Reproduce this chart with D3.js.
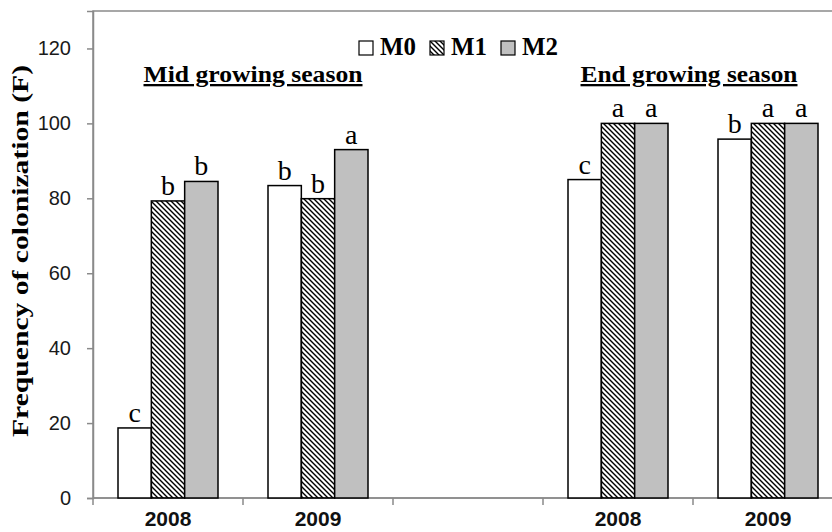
<!DOCTYPE html>
<html>
<head>
<meta charset="utf-8">
<script src="https://cdn.jsdelivr.net/npm/d3@7"></script>
<style>
  body { margin: 0; background: #fff; }
  svg { display: block; }
</style>
</head>
<body>
<div id="chart"></div>
<script>
// data
const categories = ["mid2008", "mid2009", "gap", "end2008", "end2009"];
const yearLabels = ["2008", "2009", "", "2008", "2009"];
const series = ["M0", "M1", "M2"];
const m0 = [18.7, 83.4, null, 85.0, 95.8];
const m1 = [79.3, 79.9, null, 100, 100];
const m2 = [84.5, 93.0, null, 100, 100];
const m0Letters = ["c", "b", null, "c", "b"];
const m1Letters = ["b", "b", null, "a", "a"];
const m2Letters = ["b", "a", null, "a", "a"];
const seasons = ["Mid growing season", "End growing season"];
const seasonSpans = [["mid2008", "mid2009"], ["end2008", "end2009"]];
const yTicks = [0, 20, 40, 60, 80, 100, 120];

const width = 832;
const height = 532;
const margin = {top: 11, left: 93, bottom: 34};

const values = [m0, m1, m2];
const letters = [m0Letters, m1Letters, m2Letters];

const x = d3.scaleBand()
  .domain(categories)
  .range([margin.left, margin.left + 750])
  .paddingInner(0);

const xs = d3.scaleBand()
  .domain(series)
  .range([25, 125]);

const y = d3.scaleLinear()
  .domain([0, 130])
  .range([height - margin.bottom, margin.top]);

const svg = d3.select("#chart").append("svg")
  .attr("width", width)
  .attr("height", height);

// hatch for M1
const defs = svg.append("defs");
defs.append("pattern")
  .attr("id", "hatch")
  .attr("patternUnits", "userSpaceOnUse")
  .attr("width", 5)
  .attr("height", 5)
  .append("path")
  .attr("d", "M0,0L5,5M-1,4L1,6M4,-1L6,1")
  .attr("stroke", "#000")
  .attr("stroke-width", 1.4);

const fills = d3.scaleOrdinal(series, ["#fff", "url(#hatch)", "#c0c0c0"]);

// frame (plot area)
svg.append("rect")
  .attr("x", x.range()[0])
  .attr("y", y(130))
  .attr("width", x.range()[1] - x.range()[0])
  .attr("height", y(0) - y(130))
  .attr("fill", "none")
  .attr("stroke", "#8a8a8a")
  .attr("stroke-width", 1.5);

// y axis
const yAxis = svg.append("g")
  .attr("transform", `translate(${margin.left},0)`)
  .call(d3.axisLeft(y).tickValues(yTicks).tickSize(6).tickPadding(16));
yAxis.select(".domain").attr("stroke", "#8a8a8a").attr("stroke-width", 1.5);
yAxis.selectAll(".tick line").attr("stroke", "#8a8a8a").attr("stroke-width", 1.5);
yAxis.selectAll(".tick text")
  .attr("fill", "#1a1a1a")
  .style("font", "20px 'Liberation Sans', Arial, sans-serif");

// x axis: ticks at band boundaries
const xAxis = svg.append("g")
  .attr("transform", `translate(0,${y(0)})`);
xAxis.append("line")
  .attr("x1", x.range()[0])
  .attr("x2", x.range()[1])
  .attr("stroke", "#8a8a8a")
  .attr("stroke-width", 1.5);
xAxis.selectAll("line.tk")
  .data(categories)
  .join("line")
  .attr("class", "tk")
  .attr("x1", d => x(d))
  .attr("x2", d => x(d))
  .attr("y1", 0)
  .attr("y2", 7)
  .attr("stroke", "#8a8a8a")
  .attr("stroke-width", 1.5);
xAxis.selectAll("text")
  .data(categories)
  .join("text")
  .attr("x", d => x(d) + x.bandwidth() / 2)
  .attr("y", 28)
  .attr("text-anchor", "middle")
  .attr("fill", "#111")
  .style("font", "bold 21px 'Liberation Sans', Arial, sans-serif")
  .text((d, i) => yearLabels[i]);

// y label
svg.append("text")
  .attr("transform", "translate(28,251) rotate(-90)")
  .attr("text-anchor", "middle")
  .style("font", "bold 23px 'Liberation Serif', 'Times New Roman', serif")
  .attr("textLength", 372)
  .attr("lengthAdjust", "spacingAndGlyphs")
  .text("Frequency of colonization (F)");

// bars
const bars = [];
categories.forEach((c, i) => {
  series.forEach((s, j) => {
    if (values[j][i] != null) bars.push({cat: c, s, v: values[j][i], letter: letters[j][i]});
  });
});

const g = svg.append("g");
g.selectAll("rect")
  .data(bars)
  .join("rect")
  .attr("x", d => x(d.cat) + xs(d.s))
  .attr("y", d => y(d.v))
  .attr("width", xs.bandwidth())
  .attr("height", d => y(0) - y(d.v))
  .attr("fill", d => fills(d.s))
  .attr("stroke", "#000")
  .attr("stroke-width", 1.5);

g.selectAll("text")
  .data(bars)
  .join("text")
  .attr("x", d => x(d.cat) + xs(d.s) + xs.bandwidth() / 2)
  .attr("y", d => y(d.v) - 6)
  .attr("text-anchor", "middle")
  .style("font", "28px 'Liberation Serif', 'Times New Roman', serif")
  .text(d => d.letter);

// season titles
svg.selectAll("text.season")
  .data(seasons)
  .join("text")
  .attr("class", "season")
  .attr("x", (d, i) => (x(seasonSpans[i][0]) + x(seasonSpans[i][1]) + x.bandwidth()) / 2 + (i === 0 ? 10 : -4))
  .attr("y", 82)
  .attr("text-anchor", "middle")
  .attr("textLength", (d, i) => i === 0 ? 219 : 217)
  .attr("lengthAdjust", "spacingAndGlyphs")
  .style("font", "bold 23px 'Liberation Serif', 'Times New Roman', serif")
  .style("text-decoration", "underline")
  .text(d => d);

// legend
const legend = svg.append("g")
  .attr("transform", "translate(359,41)");
const li = legend.selectAll("g")
  .data(series)
  .join("g")
  .attr("transform", (d, i) => `translate(${i * 71},0)`);
li.append("rect")
  .attr("width", 14)
  .attr("height", 14)
  .attr("fill", d => fills(d))
  .attr("stroke", "#000")
  .attr("stroke-width", 1.2);
li.append("text")
  .attr("x", 21)
  .attr("y", 14)
  .style("font", "bold 25px 'Liberation Serif', 'Times New Roman', serif")
  .attr("textLength", 36)
  .attr("lengthAdjust", "spacingAndGlyphs")
  .text(d => d);
</script>
</body>
</html>
